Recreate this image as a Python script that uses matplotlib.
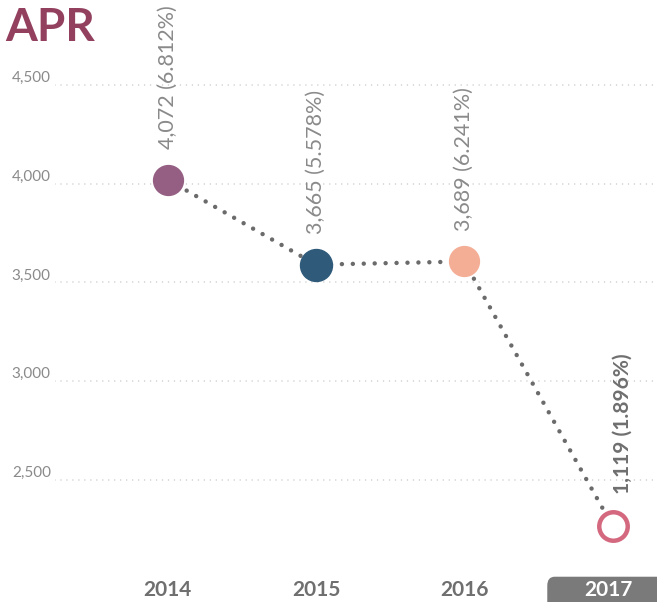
import matplotlib.pyplot as plt
from matplotlib.patches import FancyBboxPatch

# yearly values
years = [2014, 2015, 2016, 2017]
values = [4020, 3590, 3606, 2267]
counts = ["4,072", "3,665", "3,689", "1,119"]
shares = ["6.812%", "5.578%", "6.241%", "1.896%"]
ytick_values = [2500, 3000, 3500, 4000, 4500]
point_colors = ["#955f83", "#2f5a7a", "#f4ae96", "#d4687f"]

plt.rcParams['font.family'] = ['Lato', 'DejaVu Sans']

fig = plt.figure(figsize=(6.57, 6.02), dpi=100)
ax = fig.add_axes([55 / 657, 0, 602 / 657, 1])
ax.set_xlim(2013.24, 2017.30)
ax.set_ylim(1882, 4930)

# dotted grid
for v in ytick_values:
    ax.axhline(v, color="#c8c8c8", lw=1.1, linestyle=(0, (0.01, 3.9)),
               dash_capstyle="round", zorder=0)

ax.set_yticks(ytick_values)
ax.set_yticklabels([f"{v:,}" for v in ytick_values], va="bottom")
ax.tick_params(axis="y", length=0, pad=3, labelsize=11, labelcolor="#8a8a8a")
ax.set_xticks([])
for s in ax.spines.values():
    s.set_visible(False)

# connecting dotted line
ax.plot(years, values, color="#6b6b6b", lw=3.2, linestyle=(0, (0.01, 2.45)),
        dash_capstyle="round", zorder=1)

# points
for i, (x, y) in enumerate(zip(years, values)):
    if x == 2017:
        ax.plot(x, y, "o", ms=20.5, mfc="white", mec=point_colors[i], mew=3.2, zorder=3)
    else:
        ms = 23 if x == 2015 else 21.5
        ax.plot(x, y, "o", ms=ms, color=point_colors[i], zorder=3)

# rotated value labels
for i, (x, y) in enumerate(zip(years, values)):
    label = f"{counts[i]} ({shares[i]})"
    if x == 2017:
        ax.annotate(label, (x, y), xytext=(7, 23), textcoords="offset points",
                    rotation=90, ha="center", va="bottom", fontsize=15,
                    fontweight="bold", color="#6f6f6f")
    else:
        ax.annotate(label, (x, y), xytext=(0, 22), textcoords="offset points",
                    rotation=90, ha="center", va="bottom", fontsize=15.5,
                    color="#8a8a8a")

# year labels along the bottom
for x in years:
    if x == 2017:
        ax.add_patch(FancyBboxPatch((2016.56, 1750), 0.95, 260,
                                    boxstyle="round,pad=0,rounding_size=0.05",
                                    mutation_aspect=900,
                                    facecolor="#7a7a7a", edgecolor="none",
                                    clip_on=False, zorder=2))
        ax.text(x - 0.03, 1942, str(x), ha="center", va="center", fontsize=15,
                fontweight="bold", color="white", zorder=3)
    else:
        ax.text(x, 1942, str(x), ha="center", va="center", fontsize=15,
                fontweight="bold", color="#6f6f6f")

fig.text(5 / 657, 1 - 28 / 602, "APR", fontsize=33, fontweight="bold",
         color="#93405f", va="center", ha="left")

fig.savefig("out.png", dpi=100)
